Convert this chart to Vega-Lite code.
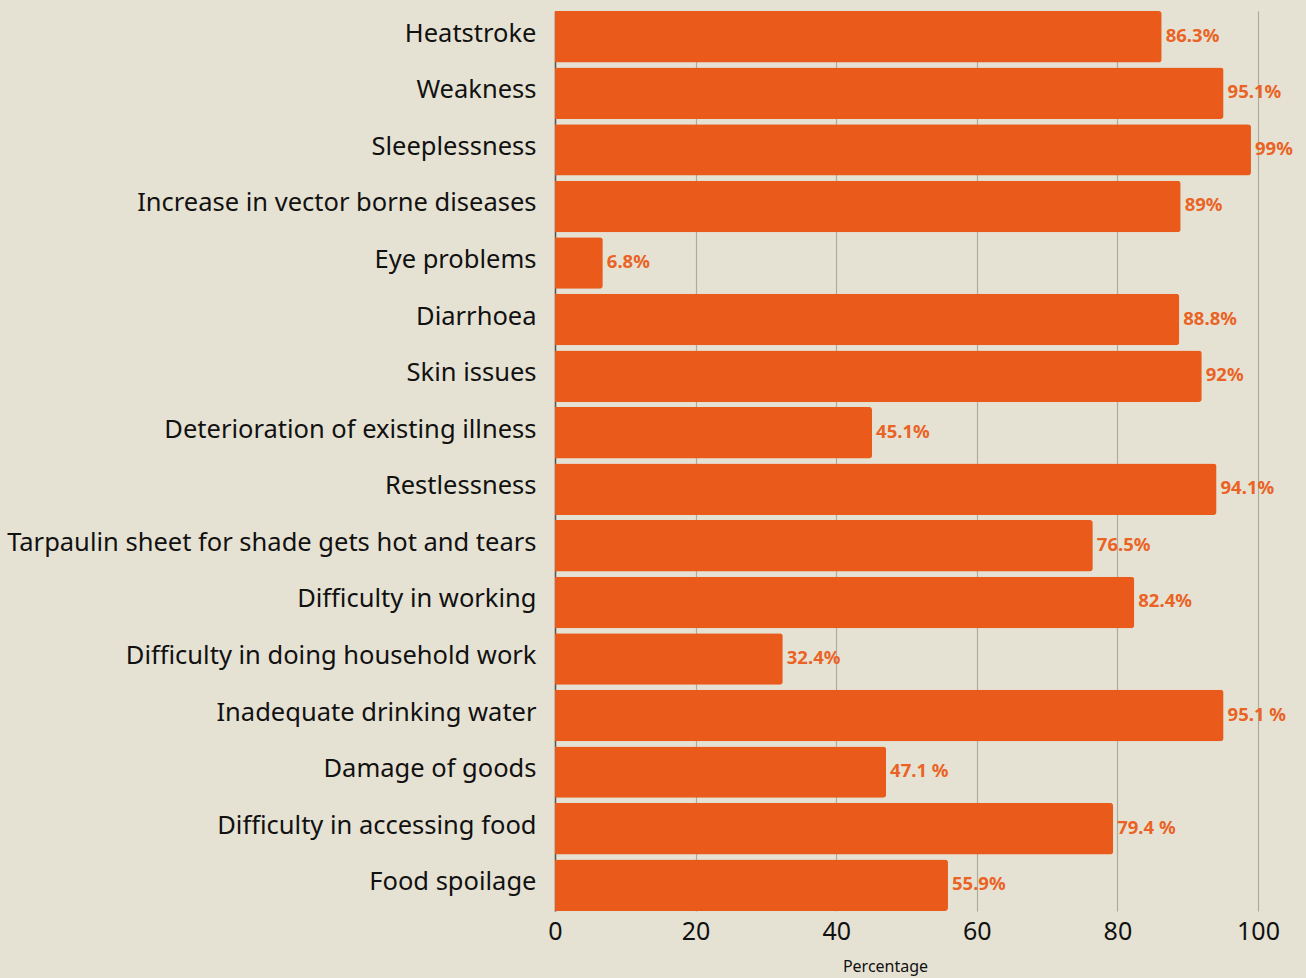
{
  "$schema": "https://vega.github.io/schema/vega-lite/v6.json",
  "width": 703,
  "height": 900,
  "autosize": {"type": "none"},
  "padding": {"left": 555, "top": 11, "right": 48, "bottom": 67},
  "background": "#e6e2d3",
  "config": {
    "view": {"stroke": null},
    "font": "Noto Sans",
    "axis": {"labelFont": "Noto Sans", "titleFont": "Noto Sans"}
  },
  "data": {
    "values": [
      {"issue": "Heatstroke", "pct": 86.3, "label": "86.3%"},
      {"issue": "Weakness", "pct": 95.1, "label": "95.1%"},
      {"issue": "Sleeplessness", "pct": 99, "label": "99%"},
      {"issue": "Increase in vector borne diseases", "pct": 89, "label": "89%"},
      {"issue": "Eye problems", "pct": 6.8, "label": "6.8%"},
      {"issue": "Diarrhoea", "pct": 88.8, "label": "88.8%"},
      {"issue": "Skin issues", "pct": 92, "label": "92%"},
      {"issue": "Deterioration of existing illness", "pct": 45.1, "label": "45.1%"},
      {"issue": "Restlessness", "pct": 94.1, "label": "94.1%"},
      {"issue": "Tarpaulin sheet for shade gets hot and tears", "pct": 76.5, "label": "76.5%"},
      {"issue": "Difficulty in working", "pct": 82.4, "label": "82.4%"},
      {"issue": "Difficulty in doing household work", "pct": 32.4, "label": "32.4%"},
      {"issue": "Inadequate drinking water", "pct": 95.1, "label": "95.1 %"},
      {"issue": "Damage of goods", "pct": 47.1, "label": "47.1 %"},
      {"issue": "Difficulty in accessing food", "pct": 79.4, "label": "79.4 %"},
      {"issue": "Food spoilage", "pct": 55.9, "label": "55.9%"}
    ]
  },
  "encoding": {
    "y": {
      "field": "issue",
      "type": "nominal",
      "sort": null,
      "scale": {"paddingInner": 0.09, "paddingOuter": 0},
      "axis": {
        "title": null,
        "labelFontSize": 25.5,
        "labelColor": "#111111",
        "labelPadding": 19,
        "labelOffset": -3,
        "ticks": false,
        "domain": true,
        "domainColor": "#555555",
        "domainWidth": 1.5,
        "labelLimit": 600
      }
    },
    "x": {
      "field": "pct",
      "type": "quantitative",
      "scale": {"domain": [0, 100], "nice": false},
      "axis": {
        "title": "Percentage",
        "titleFontSize": 16,
        "titleFontWeight": "normal",
        "titleColor": "#111111",
        "titlePadding": 14,
        "titleX": 330,
        "labelFontSize": 25,
        "labelColor": "#111111",
        "labelPadding": 8,
        "labelFlush": false,
        "values": [0, 20, 40, 60, 80, 100],
        "ticks": false,
        "domain": false,
        "grid": true,
        "gridColor": "#aeab9e",
        "gridWidth": 1.2
      }
    }
  },
  "layer": [
    {
      "mark": {"type": "bar", "color": "#e95a1b", "cornerRadiusEnd": 3}
    },
    {
      "mark": {"type": "text", "align": "left", "baseline": "middle", "dx": 4, "dy": -1, "fontSize": 18.5, "fontWeight": "bold", "color": "#ea6324"},
      "encoding": {"text": {"field": "label"}}
    }
  ]
}
